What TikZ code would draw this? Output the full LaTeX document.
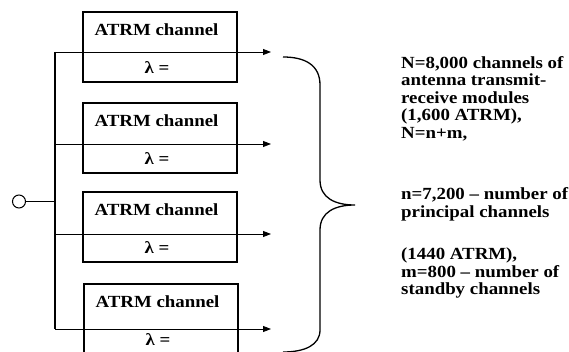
\documentclass[tikz,border=0pt]{standalone}
\usepackage{fontspec}
\setmainfont{Liberation Serif}
\usepackage{graphicx}
\usepackage{tikz}
\usetikzlibrary{arrows.meta, positioning}

\newcommand{\wide}[1]{\scalebox{1.11}[1]{#1}}

\begin{document}
\begin{tikzpicture}[
		x=1pt, y=-1pt,
		channel/.style={
			rectangle,
			draw=black,
			line width=1.6pt,
			minimum width=154pt,
			minimum height=70pt,
			inner sep=0pt
		},
		chantext/.style={
			font=\bfseries\fontsize{17}{17.5}\selectfont,
			inner sep=0pt,
			anchor=base
		},
		note/.style={
			font=\bfseries\fontsize{17}{17.6}\selectfont,
			inner sep=0pt,
			anchor=north west
		},
		arrow/.style={
			line width=0.9pt,
			-{Triangle[length=8pt,width=6pt]},
		},
		bus/.style={line width=1.3pt}
	]
	\useasboundingbox (0,0) rectangle (569,352);
	
	\node[channel] (ch1) at (160,47) {};
	\node[channel] (ch2) at (160,138) {};
	\node[channel] (ch3) at (160,227) {};
	\node[channel] (ch4) at (161,319) {};
	
	\node[chantext] (t1) at ([xshift=-3.5pt, yshift=-24pt]ch1.north) {\wide{ATRM channel}};
	\node[chantext] (t2) at ([xshift=-3.5pt, yshift=-24pt]ch2.north) {\wide{ATRM channel}};
	\node[chantext] (t3) at ([xshift=-3.5pt, yshift=-24pt]ch3.north) {\wide{ATRM channel}};
	\node[chantext] (t4) at ([xshift=-3.5pt, yshift=-24pt]ch4.north) {\wide{ATRM channel}};
	
	\node[chantext] (l1) at ([xshift=-3pt, yshift=-62pt]ch1.north) {\wide{λ =}};
	\node[chantext] (l2) at ([xshift=-3pt, yshift=-62pt]ch2.north) {\wide{λ =}};
	\node[chantext] (l3) at ([xshift=-3pt, yshift=-62pt]ch3.north) {\wide{λ =}};
	\node[chantext] (l4) at ([xshift=-3pt, yshift=-62pt]ch4.north) {\wide{λ =}};
	
	\coordinate (b1) at (55,52);
	\coordinate (b2) at (55,144);
	\coordinate (b3) at (55,234);
	\coordinate (b4) at (55,329);
	\coordinate (e1) at (271,52);
	\coordinate (e2) at (271,144);
	\coordinate (e3) at (271,234);
	\coordinate (e4) at (271,329);
	
	\draw[arrow] (b1) -- (e1);
	\draw[arrow] (b2) -- (e2);
	\draw[arrow] (b3) -- (e3);
	\draw[arrow] (b4) -- (e4);
	\draw[bus] (b1) -- (b4);
	
	\node[circle, draw=black, line width=1pt, minimum size=13pt, inner sep=0pt] (in) at (19,201.5) {};
	\coordinate (bm) at (55,201.5);
	\draw[line width=0.9pt] (in) -- (bm);
	
	% curly brace
	\draw[line width=1.3pt] (283,57) .. controls (305,57) and (320,65) .. (320,85)
		-- (320,180) .. controls (320,198) and (335,205) .. (355,205)
		.. controls (335,205) and (320,212) .. (320,230)
		-- (320,330) .. controls (320,345) and (305,352) .. (283,352);
	
	\node[note] (n1) at (401,55.5) {\wide{\begin{tabular}{@{}l@{}}N=8,000 channels of\\antenna transmit-\\receive modules\\(1,600 ATRM),\\N=n+m,\end{tabular}}};
	\node[note] (n2) at (401,187) {\wide{\begin{tabular}{@{}l@{}}n=7,200 -- number of\\principal channels\end{tabular}}};
	\node[note] (n3) at (401,247) {\wide{\begin{tabular}{@{}l@{}}(1440 ATRM),\\m=800 -- number of\\standby channels\end{tabular}}};
	
\end{tikzpicture}
\end{document}
